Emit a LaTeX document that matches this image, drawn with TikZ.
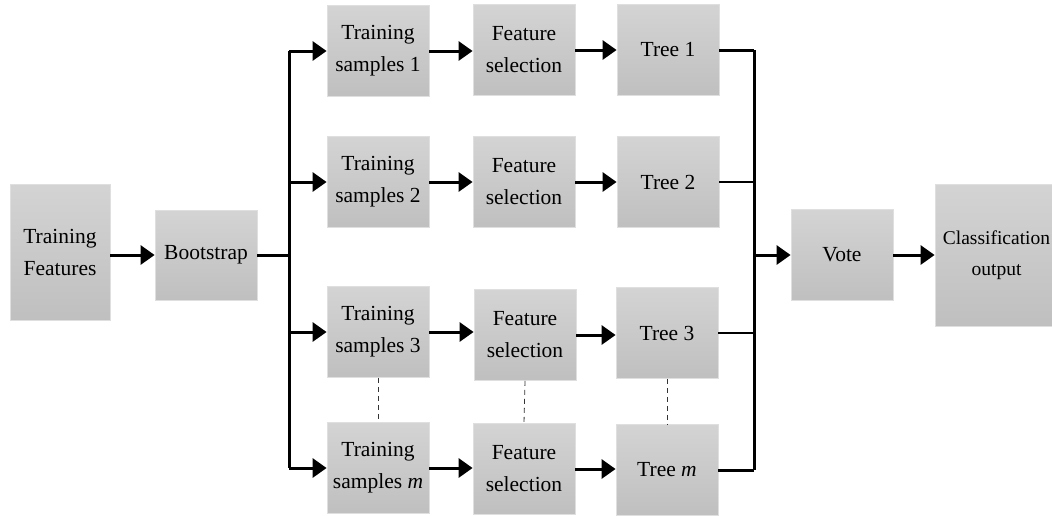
\documentclass[tikz,border=0pt]{standalone}
\usepackage{fontspec}
\setmainfont{Liberation Serif}
\usetikzlibrary{arrows.meta}
\begin{document}
\begin{tikzpicture}[x=1pt,y=-1pt,
  box/.style={rectangle, draw=gray!25, line width=0.8pt, top color=black!17, bottom color=black!25,
    minimum width=102pt, minimum height=91pt, inner sep=0pt, align=center,
    font=\fontsize{21.5}{32}\selectfont},
  arr/.style={line width=3pt, -{Triangle[length=14pt,width=19pt]}},
  thickline/.style={line width=3pt},
  thinline/.style={line width=1.5pt},
  dots/.style={line width=0.8pt, dash pattern=on 5pt off 4pt, black!80}]
\useasboundingbox (0,0) rectangle (1052,515);
\node[box, minimum width=100pt, minimum height=136pt] (tf) at (60,252) {Training\\Features};
\node[box, minimum height=90pt] (boot) at (206,255) {Bootstrap};
% row 1
\node[box] (ts1) at (378,51) {Training\\samples 1};
\node[box] (fs1) at (524,50) {Feature\\selection};
\node[box] (tr1) at (668,50) {Tree 1};
% row 2
\node[box] (ts2) at (378,182) {Training\\samples 2};
\node[box] (fs2) at (524,182) {Feature\\selection};
\node[box] (tr2) at (668,182) {Tree 2};
% row 3
\node[box] (ts3) at (378,332) {Training\\samples 3};
\node[box] (fs3) at (525,335) {Feature\\selection};
\node[box] (tr3) at (667,333) {Tree 3};
% row m
\node[box] (tsm) at (378,468) {Training\\samples \textit{m}};
\node[box] (fsm) at (524,469) {Feature\\selection};
\node[box] (trm) at (667,470) {Tree \textit{m}};
% right
\node[box] (vote) at (842,255) {Vote};
\node[box, minimum width=123pt, minimum height=142pt, font=\fontsize{19.5}{31}\selectfont] (cls) at (996.5,255) {Classification\\output};
% input
\draw[arr] (tf.east |- boot.west) -- (boot.west);
% left bus
\coordinate (bl) at (289,255);
\draw[thickline] (boot.east) -- (bl);
\draw[thickline] (bl |- ts1.west) -- (bl |- tsm.west);
\foreach \t in {ts1,ts2,ts3,tsm} \draw[arr] (bl |- \t.west) -- (\t.west);
% row arrows
\foreach \a/\b in {ts1/fs1,fs1/tr1,ts2/fs2,fs2/tr2,ts3/fs3,fs3/tr3,tsm/fsm,fsm/trm}
  \draw[arr] (\a.east) -- (\b.west |- \a.east);
% dashed
\draw[dots] (ts3.south) -- (tsm.north);
\draw[dots] (fs3.south) -- (fsm.north);
\draw[dots] (tr3.south) -- (trm.north);
% right bus
\coordinate (br) at (754,255);
\draw[thickline] (tr1.east) -- (br |- tr1.east);
\draw[thinline] (tr2.east) -- (br |- tr2.east);
\draw[thinline] (tr3.east) -- (br |- tr3.east);
\draw[thickline] (trm.east) -- (br |- trm.east);
\draw[thickline] (br |- tr1.east) -- (br |- trm.east);
\draw[arr] (br) -- (vote.west);
\draw[arr] (vote.east) -- (cls.west);
\end{tikzpicture}
\end{document}
